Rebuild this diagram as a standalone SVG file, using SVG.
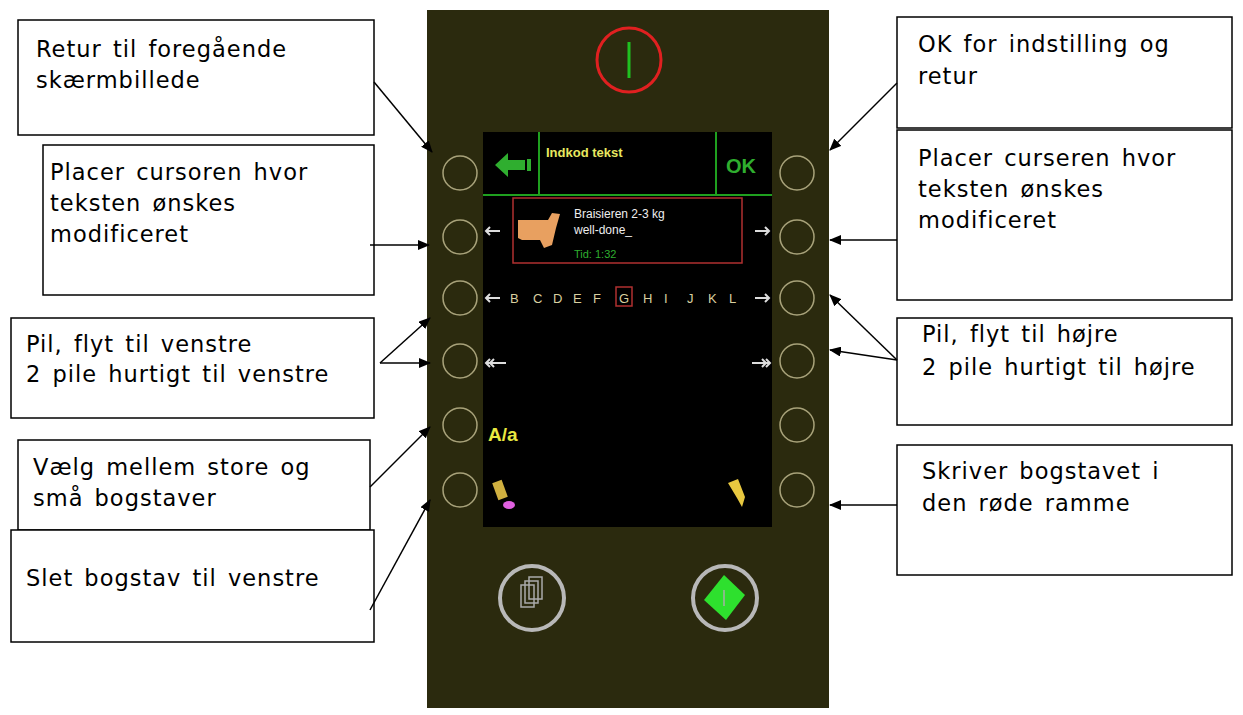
<svg xmlns="http://www.w3.org/2000/svg" width="1243" height="715" viewBox="0 0 1243 715">
<style>
.box{fill:#fff;stroke:#000;stroke-width:1.5}
.t{font-family:"DejaVu Sans",sans-serif;font-size:22.5px;letter-spacing:1px;word-spacing:3px;fill:#000}
.btn{fill:none;stroke:#a8a27a;stroke-width:1.5}
.c{stroke:#000;stroke-width:1.5;fill:none;marker-end:url(#a)}
.w{stroke:#ddd;stroke-width:2;fill:none}
.l{font-family:"Liberation Sans",sans-serif;font-size:13px;fill:#d8d0a0}
</style>
<defs><marker id="a" markerWidth="12" markerHeight="10" refX="11" refY="5" orient="auto" markerUnits="userSpaceOnUse"><path d="M0,0 L12,5 L0,10 z" fill="#000"/></marker></defs>
<rect width="1243" height="715" fill="#fff"/>
<g id="device">
<rect x="427" y="10" width="402" height="698" fill="#2b2a0e"/>
<circle cx="629" cy="60" r="32" fill="none" stroke="#e02020" stroke-width="3"/>
<line x1="629" y1="42" x2="629" y2="78" stroke="#20c020" stroke-width="3"/>
<rect x="483" y="132" width="289" height="395" fill="#000"/>
<line x1="483" y1="195" x2="772" y2="195" stroke="#1fa01f" stroke-width="2"/>
<line x1="539" y1="132" x2="539" y2="195" stroke="#1fa01f" stroke-width="2"/>
<line x1="716" y1="132" x2="716" y2="195" stroke="#1fa01f" stroke-width="2"/>
<path d="M495,165 L508,153 L508,160 L525,160 L525,170 L508,170 L508,177 z" fill="#2fae2f"/>
<rect x="527" y="159" width="4" height="12" fill="#2fae2f"/>
<text x="546" y="157" font-family="Liberation Sans,sans-serif" font-weight="bold" font-size="13" fill="#e8e860">Indkod tekst</text>
<text x="726" y="173" font-family="Liberation Sans,sans-serif" font-weight="bold" font-size="20" fill="#2fae2f">OK</text>
<rect x="513" y="198" width="229" height="65" fill="none" stroke="#b03030" stroke-width="1.5"/>
<path d="M518,220 L548,220 L552,213 L560,214 L556,228 L552,245 L544,248 L540,240 L522,240 L518,238 z" fill="#e8a060"/>
<text x="574" y="218" font-family="Liberation Sans,sans-serif" font-size="12" fill="#eee">Braisieren 2-3 kg</text>
<text x="574" y="234" font-family="Liberation Sans,sans-serif" font-size="12" fill="#eee">well-done_</text>
<text x="574" y="258" font-family="Liberation Sans,sans-serif" font-size="11" fill="#2fae2f">Tid: 1:32</text>
<path class="w" d="M500,231 L486,231 M490,227 L486,231 L490,235"/>
<path class="w" d="M755,231 L769,231 M765,227 L769,231 L765,235"/>
<path class="w" d="M500,298 L486,298 M490,294 L486,298 L490,302"/>
<path class="w" d="M755,298 L769,298 M765,294 L769,298 L765,302"/>
<text class="l" x="510" y="303">B</text><text class="l" x="533" y="303">C</text><text class="l" x="553" y="303">D</text><text class="l" x="573" y="303">E</text><text class="l" x="593" y="303">F</text>
<rect x="616" y="287" width="16" height="19" fill="none" stroke="#b03030" stroke-width="1.5"/>
<text class="l" x="619" y="303">G</text><text class="l" x="643" y="303">H</text><text class="l" x="664" y="303">I</text><text class="l" x="687" y="303">J</text><text class="l" x="708" y="303">K</text><text class="l" x="729" y="303">L</text>
<path class="w" d="M506,363 L486,363 M490,359 L486,363 L490,367 M494,359 L490,363 L494,367"/>
<path class="w" d="M752,363 L770,363 M766,359 L770,363 L766,367 M762,359 L766,363 L762,367"/>
<text x="488" y="441" font-family="Liberation Sans,sans-serif" font-weight="bold" font-size="19" fill="#e8e840">A/a</text>
<rect x="495" y="481" width="10" height="18" fill="#d0b040" transform="rotate(-20 500 490)"/>
<ellipse cx="509" cy="505" rx="6" ry="4" fill="#e060e0"/>
<path d="M728,483 L738,479 L745,497 L742,507 L737,498 z" fill="#e8c840"/>
</g>
<g id="buttons">
<circle class="btn" cx="460" cy="173" r="17"/><circle class="btn" cx="460" cy="237" r="17"/><circle class="btn" cx="460" cy="298" r="17"/><circle class="btn" cx="460" cy="361" r="17"/><circle class="btn" cx="460" cy="425" r="17"/><circle class="btn" cx="460" cy="490" r="17"/>
<circle class="btn" cx="797" cy="173" r="17"/><circle class="btn" cx="797" cy="237" r="17"/><circle class="btn" cx="797" cy="298" r="17"/><circle class="btn" cx="797" cy="361" r="17"/><circle class="btn" cx="797" cy="425" r="17"/><circle class="btn" cx="797" cy="490" r="17"/>
<circle cx="532" cy="598" r="32" fill="none" stroke="#b8b8b8" stroke-width="4"/>
<g fill="none" stroke="#aaa" stroke-width="1.5"><rect x="521" y="585" width="13" height="22"/><rect x="525" y="581" width="13" height="22"/><rect x="529" y="577" width="13" height="22"/></g>
<circle cx="725" cy="598" r="32" fill="none" stroke="#b8b8b8" stroke-width="4"/>
<path d="M724,575 L745,595 L726,620 L704,600 z" fill="#2ee02e"/>
<line x1="724" y1="590" x2="724" y2="606" stroke="#88bb88" stroke-width="2"/>
</g>
<g id="labels">
<rect class="box" x="18" y="20" width="356" height="115"/><text class="t" x="36" y="57">Retur til foregående</text><text class="t" x="36" y="88">skærmbillede</text>
<rect class="box" x="43" y="145" width="331" height="150"/><text class="t" x="50" y="180">Placer cursoren hvor</text><text class="t" x="50" y="211">teksten ønskes</text><text class="t" x="50" y="242">modificeret</text>
<rect class="box" x="11" y="318" width="363" height="100"/><text class="t" x="26" y="352">Pil, flyt til venstre</text><text class="t" x="26" y="382">2 pile hurtigt til venstre</text>
<rect class="box" x="18" y="440" width="352" height="90"/><text class="t" x="33" y="475">Vælg mellem store og</text><text class="t" x="33" y="506">små bogstaver</text>
<rect class="box" x="11" y="530" width="363" height="112"/><text class="t" x="26" y="586">Slet bogstav til venstre</text>
<rect class="box" x="897" y="17" width="335" height="111"/><text class="t" x="918" y="52">OK for indstilling og</text><text class="t" x="918" y="84">retur</text>
<rect class="box" x="897" y="130" width="335" height="170"/><text class="t" x="918" y="166">Placer curseren hvor</text><text class="t" x="918" y="197">teksten ønskes</text><text class="t" x="918" y="228">modificeret</text>
<rect class="box" x="897" y="318" width="335" height="107"/><text class="t" x="922" y="342">Pil, flyt til højre</text><text class="t" x="922" y="375">2 pile hurtigt til højre</text>
<rect class="box" x="897" y="445" width="335" height="130"/><text class="t" x="922" y="479">Skriver bogstavet i</text><text class="t" x="922" y="511">den røde ramme</text>
</g>
<g id="connectors">
<line class="c" x1="374" y1="82" x2="432" y2="152"/>
<line class="c" x1="370" y1="245" x2="429" y2="245"/>
<line class="c" x1="380" y1="363" x2="430" y2="318"/>
<line class="c" x1="380" y1="363" x2="430" y2="363"/>
<line class="c" x1="370" y1="487" x2="430" y2="427"/>
<line class="c" x1="370" y1="610" x2="430" y2="500"/>
<line class="c" x1="897" y1="83" x2="830" y2="150"/>
<line class="c" x1="897" y1="240" x2="830" y2="240"/>
<line class="c" x1="897" y1="360" x2="830" y2="295"/>
<line class="c" x1="897" y1="360" x2="830" y2="350"/>
<line class="c" x1="897" y1="505" x2="830" y2="505"/>
</g>
</svg>
